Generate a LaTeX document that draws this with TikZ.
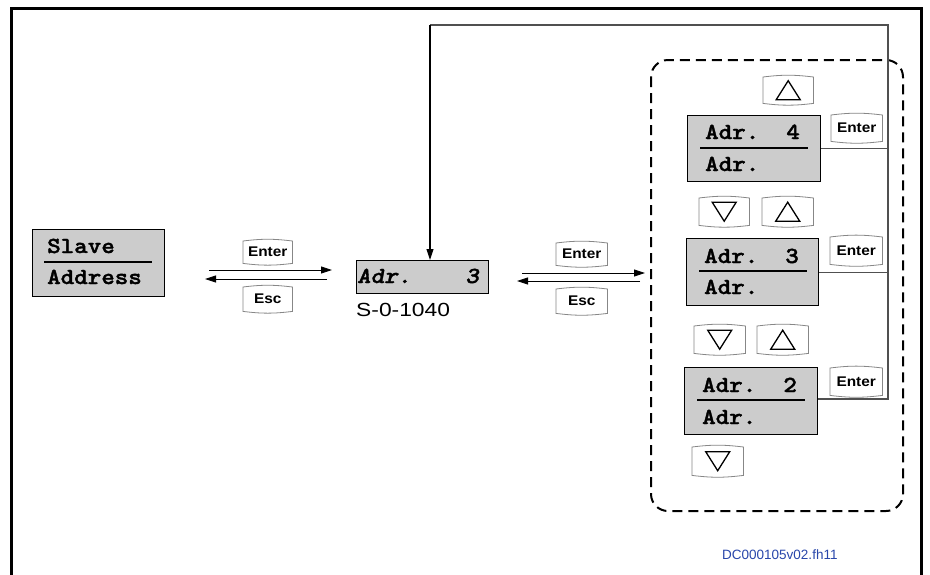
\documentclass[tikz,border=0pt]{standalone}
\usepackage{fontspec}
\setmainfont{Liberation Sans}
\newfontfamily\lcdfont{lmmonolt10-bold.otf}[FakeStretch=1.12,FakeBold=1.6,ItalicFont=lmmonolt10-boldoblique.otf,ItalicFeatures={FakeBold=1.6}]
\newfontfamily\keyfont[FakeStretch=1.1]{Liberation Sans}
\newfontfamily\labfont[FakeStretch=1.2]{Liberation Sans}
\usetikzlibrary{arrows.meta}
\definecolor{lcdgray}{RGB}{204,204,204}
\definecolor{keygray}{RGB}{135,135,135}
\definecolor{linegray}{RGB}{80,80,80}
\definecolor{dcblue}{RGB}{40,70,170}
\newcommand\keyshape[1]{\draw[keyline] (#1.north west) to[bend left=7] (#1.north east) -- (#1.south east) to[bend left=7] (#1.south west) -- cycle;}
\newcommand\uptri[1]{\draw[tri,shift={(#1.center)}] (0,-9.5) -- (12,9.5) -- (-12,9.5) -- cycle;}
\newcommand\downtri[1]{\draw[tri,shift={(#1.center)}] (0,9.5) -- (12,-9.5) -- (-12,-9.5) -- cycle;}
\begin{document}
\begin{tikzpicture}[x=1pt,y=-1pt,
  lcdbox/.style={draw=black,line width=1.3pt,fill=lcdgray,anchor=north west,inner sep=0pt},
  lcdtext/.style={anchor=base west,inner sep=0pt,font=\lcdfont\fontsize{23}{25}\selectfont},
  keybox/.style={anchor=north west,inner sep=0pt,font=\keyfont\bfseries\fontsize{14}{16}\selectfont},
  keyline/.style={draw=keygray,line width=0.8pt},
  tri/.style={draw=black,line width=1.3pt,line join=miter},
  conn/.style={draw=black,line width=0.9pt,-{Triangle[length=11pt,width=7pt]}},
  fb/.style={draw=linegray,line width=1.1pt},
  divider/.style={draw=black,line width=1.6pt}]
\useasboundingbox (0,0) rectangle (930,574);
\fill[white] (0,0) rectangle (930,574);
% outer frame
\draw[line width=3pt] (11,600) -- (11,8) -- (921,8) -- (921,600);

% dashed group
\draw[line width=2pt,dash pattern=on 10pt off 6pt,rounded corners=17pt] (651,60) rectangle (903,511);

% Slave Address box
\node[lcdbox,minimum width=132pt,minimum height=67pt] (slave) at (32,229) {};
\draw[divider] (44,262) -- (152,262);
\node[lcdtext] (tslave) at (47,253) {Slave};
\node[lcdtext] (taddr) at (47,284) {Address};

% middle box
\node[lcdbox,minimum width=132pt,minimum height=33pt] (mid) at (356,260) {};
\node[lcdtext,font=\lcdfont\itshape\fontsize{23}{25}\selectfont] (tmid) at (357,283) {Adr.\ \ \ \ 3};
\node[anchor=base west,inner sep=0pt,font=\labfont\fontsize{19}{21}\selectfont] (par) at (356,316) {S-0-1040};

% right boxes
\node[lcdbox,minimum width=133pt,minimum height=66pt] (b4) at (687,115) {};
\draw[divider] (700,148) -- (808,148);
\node[lcdtext] (t4a) at (705,139) {Adr.\ \ 4};
\node[lcdtext] (t4b) at (705,171) {Adr.};

\node[lcdbox,minimum width=132pt,minimum height=67pt] (b3) at (686,238) {};
\draw[divider] (699,271) -- (807,271);
\node[lcdtext] (t3a) at (704,263) {Adr.\ \ 3};
\node[lcdtext] (t3b) at (704,294) {Adr.};

\node[lcdbox,minimum width=133pt,minimum height=67pt] (b2) at (684,367) {};
\draw[divider] (697,400) -- (805,400);
\node[lcdtext] (t2a) at (702,392) {Adr.\ \ 2};
\node[lcdtext] (t2b) at (702,424) {Adr.};

% keys
\node[keybox,minimum width=49pt,minimum height=22pt] (en1) at (243,241) {Enter};
\node[keybox,minimum width=49pt,minimum height=24pt] (es1) at (243,287) {Esc};
\node[keybox,minimum width=51pt,minimum height=22pt] (en2) at (556,243) {Enter};
\node[keybox,minimum width=51pt,minimum height=24pt] (es2) at (556,289) {Esc};
\node[keybox,minimum width=51pt,minimum height=26pt] (en4) at (831,115) {Enter};
\node[keybox,minimum width=52pt,minimum height=27pt] (en3) at (830,237) {Enter};
\node[keybox,minimum width=52pt,minimum height=27pt] (en2r) at (830,368) {Enter};
\foreach \k in {en1,es1,en2,es2,en4,en3,en2r} {\keyshape{\k}}

\node[keybox,minimum width=50pt,minimum height=26pt] (up4) at (763,77) {};
\node[keybox,minimum width=50pt,minimum height=27pt] (dn3) at (699,198) {};
\node[keybox,minimum width=51pt,minimum height=27pt] (up3) at (762,198) {};
\node[keybox,minimum width=51pt,minimum height=27pt] (dn2) at (694,326) {};
\node[keybox,minimum width=51pt,minimum height=27pt] (up2) at (757,326) {};
\node[keybox,minimum width=51pt,minimum height=28pt] (dn1) at (692,447) {};
\foreach \k in {up4,dn3,up3,dn2,up2,dn1} {\keyshape{\k}}
\uptri{up4}
\downtri{dn3}
\uptri{up3}
\downtri{dn2}
\uptri{up2}
\downtri{dn1}

% horizontal arrows
\coordinate (a1s) at (209,270); \coordinate (a1e) at (332,270);
\coordinate (b1s) at (327,279); \coordinate (b1e) at (205,279);
\coordinate (a2s) at (522,273); \coordinate (a2e) at (645,273);
\coordinate (b2s) at (640,281); \coordinate (b2e) at (517,281);
\draw[conn] (a1s) -- (a1e);
\draw[conn] (b1s) -- (b1e);
\draw[conn] (a2s) -- (a2e);
\draw[conn] (b2s) -- (b2e);

% feedback lines
\coordinate (topR) at (888,25);
\coordinate (topL) at (430,25);
\draw[fb] (b4.east) -- (b4.east -| topR);
\draw[fb] (b3.east) -- (b3.east -| topR);
\draw[fb] (b2.east |- 0,399) -- (topR |- 0,399) -- (topR) -- (topL);
\draw[fb,draw=black,-{Triangle[length=11pt,width=7pt]}] (topL) -- (topL |- mid.north);

% file label
\node[anchor=base west,inner sep=0pt,text=dcblue,font=\fontsize{13.5}{15}\selectfont] (dc) at (722,559) {DC000105v02.fh11};
\end{tikzpicture}
\end{document}
